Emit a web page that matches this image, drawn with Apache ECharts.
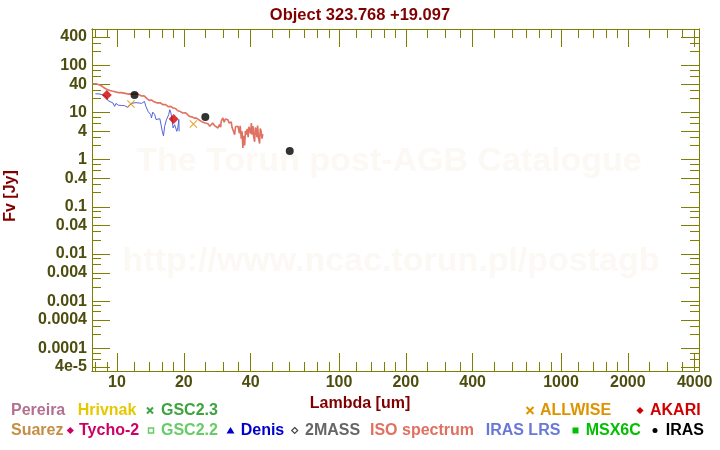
<!DOCTYPE html>
<html>
<head>
<meta charset="utf-8">
<script src="https://cdn.jsdelivr.net/npm/echarts@6/dist/echarts.min.js"></script>
<style>html,body{margin:0;padding:0;background:#fff}#c{width:720px;height:450px}</style>
</head>
<body>
<div id="c"></div>
<script>
// ---- data ----
const isoSpectrum = [
[7.75,40.8],[7.9,40],[8.1,40.5],[8.3,39],[8.4,39.6],[8.5,37],[8.7,34],[8.8,34.8],[8.9,32],[9.1,30.5],[9.2,31.2],[9.3,29.4],[9.5,28.5],[9.7,28],[9.8,28.6],[9.9,27.2],
[10.1,26.5],[10.3,25.8],[10.45,26.4],[10.6,25],[10.9,25.5],[11.2,24.6],[11.5,24.9],[11.8,24.3],[12.05,25],[12.3,24],[12.45,24.6],[12.6,23.2],[12.9,22.5],
[13.1,22],[13.25,22.6],[13.4,21.5],[13.7,19.5],[13.85,20.2],[14.0,18.1],[14.3,18.5],[14.6,17.2],[14.75,17.8],[14.9,16.8],[15.2,16.0],[15.5,15.6],[15.65,16.1],[15.8,15.2],[16.1,14.7],
[16.4,14.3],[16.55,14.8],[16.7,13.6],[17.0,13.3],[17.3,13.0],[17.45,13.5],[17.6,12.7],[17.9,12.5],[18.2,11.8],[18.35,12.2],[18.5,11.2],[18.8,10.9],[19.2,10.6],[19.35,10.9],[19.5,10.0],
[19.8,9.8],[20.2,9.6],[20.4,9.9],[20.6,9.0],[21.2,8.3],[21.5,8.7],[21.8,8.1],[22.3,7.6],[22.5,8.0],[22.8,7.6],[23.2,7.0],[23.6,6.8],[24.0,6.9],[24.4,6.2],[25.0,6.0],[25.3,6.4],[25.7,5.8],[26.2,5.1],
[26.6,5.6],[27.0,6.0],[27.5,5.3],[28.0,5.0],[28.5,4.7],[29.0,5.6],[29.3,4.9],[29.5,6.6],[30.0,7.7],[30.4,6.2],[30.8,7.3],[31.1,7.7],[31.6,7.0],[32.0,6.0],[32.2,5.5],
[32.7,6.3],[33.0,4.8],[33.3,5.1],[33.9,3.4],[34.2,5.0],[34.5,4.6],[35.1,5.1],[35.6,3.6],[35.9,5.2],[36.3,2.8],[36.6,4.0],[36.9,1.77],[37.3,3.2],[37.6,2.0],[37.9,4.1],[38.2,3.4],
[38.6,4.5],[39.0,3.0],[39.3,5.0],[39.6,4.7],[40.0,3.6],[40.3,6.0],[40.6,3.4],[41.0,5.2],[41.3,3.0],[41.7,2.4],[42.0,4.8],[42.4,4.3],[42.7,3.0],
[43.0,5.3],[43.4,2.9],[43.9,2.2],[44.2,4.6],[44.6,4.0],[45.0,2.8],[45.4,3.5]
];
const irasLrs = [
[8.0,25],[8.07,23.9],[8.3,24.8],[8.5,24.2],[8.65,25.2],[8.8,22.8],[9.0,20.5],[9.1,18],[9.25,18.9],[9.4,16.7],[9.6,15.9],[9.76,13.5],[9.9,15.6],[10.0,15.0],[10.15,14.3],[10.3,15.2],[10.5,14.1],
[10.65,14.8],[10.8,14.0],[11.0,13.2],[11.2,12.9],[11.4,14.5],[11.6,14.1],[11.8,15.9],[12.0,15.4],[12.2,16.2],[12.4,14.7],[12.6,15.9],[12.75,14.9],[12.9,15.6],
[13.1,16.5],[13.3,17.2],[13.5,13.5],[13.6,12.5],[13.8,10.6],[14.0,11.5],[14.2,9.0],[14.3,7.66],[14.5,10.2],[14.8,9.0],[15.0,7.1],
[15.3,7.7],[15.6,7.4],[15.8,5.5],[16.0,4.0],[16.2,3.2],[16.4,5.1],[16.7,7.0],[16.9,6.5],[17.1,9.0],[17.3,11.5],[17.5,9.8],[17.7,7.2],
[17.9,4.7],[18.2,5.5],[18.4,6.0],[18.6,4.0],[18.8,4.7],[19.0,7.1],[19.05,4.0]
];
const akari = [[9.0,23.5],[18.0,7.3]];
const iras = [[12,23.5],[25,8.0],[60,1.53]];
const allwise = [[11.56,15.2],[22.09,5.71]];

const xLabelValues = [10,20,40,100,200,400,1000,2000,4000];
const xMinorValues = [8,9,12,14,16,18,25,30,35,50,60,70,80,90,120,140,160,180,250,300,350,500,600,700,800,900,1200,1400,1600,1800,2500,3000,3500];
const yLabelValues = [4e-5,1e-4,4e-4,0.001,0.004,0.01,0.04,0.1,0.4,1,4,10,40,100,400];
const yLabelTexts = ['4e-5','0.0001','0.0004','0.001','0.004','0.01','0.04','0.1','0.4','1','4','10','40','100','400'];
const yMinorValues = [6e-5,8e-5,2e-4,3e-4,6e-4,8e-4,0.002,0.003,0.006,0.008,0.02,0.03,0.06,0.08,0.2,0.3,0.6,0.8,2,3,6,8,20,30,60,80,200,300];

// ---- chart ----
const OLIVE = '#808000';
const LBL = '#4d4d10';
const FONT = '"Liberation Sans", Arial, sans-serif';
const XMIN = 7.72, XMAX = 4183, YMIN = 3.3e-5, YMAX = 591;

function fmtY(v){
  for (let i=0;i<yLabelValues.length;i++){
    if (Math.abs(Math.log10(v)-Math.log10(yLabelValues[i]))<1e-4) return yLabelTexts[i];
  }
  return '';
}
function fmtX(v){
  for (let i=0;i<xLabelValues.length;i++){
    if (Math.abs(Math.log10(v)-Math.log10(xLabelValues[i]))<1e-4) return String(xLabelValues[i]);
  }
  return '';
}
function mkAxis(kind, pos, ticks, len, labels){
  const a = {
    type:'log', logBase:10, position:pos,
    min: kind==='x'?XMIN:YMIN, max: kind==='x'?XMAX:YMAX,
    splitLine:{show:false},
    axisLine:{show:true, onZero:false, lineStyle:{color:OLIVE,width:1}},
    axisTick:{show:true, inside:true, length:len, customValues:ticks, lineStyle:{color:OLIVE,width:1}},
    axisLabel:{show:false},
    minorTick:{show:false}
  };
  if (labels){
    a.axisLabel = {show:true, customValues:labels, color:LBL, fontSize:16, fontWeight:'bold', fontFamily:FONT,
      margin: kind==='x'?4:5, formatter: kind==='x'?fmtX:fmtY, showMinLabel:true, showMaxLabel:true};
  }
  return a;
}

const chart = echarts.init(document.getElementById('c'), null, {renderer:'canvas'});

function txt(x,y,s,color,extra){
  return Object.assign({type:'text', x:x, y:y, z:50, style:{text:s, fill:color, font:'bold 16px '+FONT, textVerticalAlign:'middle', textAlign:'left'}}, extra||{});
}
function diamond(cx,cy,r,color,stroke){
  return {type:'polygon', z:50, shape:{points:[[cx,cy-r],[cx+r,cy],[cx,cy+r],[cx-r,cy]]},
    style: stroke?{fill:'none',stroke:color,lineWidth:1.2}:{fill:color}};
}
function cross(cx,cy,r,color){
  return {type:'group', z:50, children:[
    {type:'line', shape:{x1:cx-r,y1:cy-r,x2:cx+r,y2:cy+r}, style:{stroke:color,lineWidth:2}},
    {type:'line', shape:{x1:cx-r,y1:cy+r,x2:cx+r,y2:cy-r}, style:{stroke:color,lineWidth:2}}
  ]};
}
const R1 = 410.5, R2 = 430.5;
const WM = '#fcf8f3';
const graphics = [
  {type:'text', x:389, y:162, z:0, silent:true, style:{text:'The Torun post-AGB Catalogue', fill:WM, font:'bold 34px '+FONT, textAlign:'center', textVerticalAlign:'middle'}},
  {type:'text', x:391, y:262, z:0, silent:true, style:{text:'http://www.ncac.torun.pl/postagb', fill:WM, font:'bold 34px '+FONT, textAlign:'center', textVerticalAlign:'middle'}},
  {type:'text', x:360, y:404, z:50, style:{text:'Lambda [um]', fill:'#800000', font:'bold 16px '+FONT, textAlign:'center', textVerticalAlign:'middle'}},
  {type:'text', x:11, y:196, z:50, rotation:Math.PI/2, style:{text:'Fv [Jy]', fill:'#800000', font:'bold 16px '+FONT, textAlign:'center', textVerticalAlign:'middle'}},
  txt(11,R1,'Pereira','#b3708f'),
  txt(77.7,R1,'Hrivnak','#e6c800'),
  cross(150,R1,3,'#3fa33f'), txt(161,R1,'GSC2.3','#3fa33f'),
  cross(530,R1,3.5,'#dd9400'), txt(540,R1,'ALLWISE','#dd9400'),
  diamond(640,R1,3.6,'#d00000'), txt(650,R1,'AKARI','#d00000'),
  txt(11,R2,'Suarez','#c58e45'),
  diamond(70.3,R2,3.6,'#cc0066'), txt(79,R2,'Tycho-2','#cc0066'),
  {type:'rect', z:50, shape:{x:148.5,y:R2-2.5,width:5,height:5}, style:{fill:'none',stroke:'#66cc66',lineWidth:1.5}}, txt(161,R2,'GSC2.2','#66cc66'),
  {type:'polygon', z:50, shape:{points:[[230.5,R2-3.5],[234.5,R2+3],[226.5,R2+3]]}, style:{fill:'#0000cc'}}, txt(240.7,R2,'Denis','#0000cc'),
  diamond(294.7,R2,3,'#444444',true), txt(305,R2,'2MASS','#666666'),
  txt(370,R2,'ISO spectrum','#e07060'),
  txt(485.7,R2,'IRAS LRS','#6878d8'),
  {type:'rect', z:50, shape:{x:572.5,y:R2-3,width:6,height:6}, style:{fill:'#00c000'}}, txt(585.7,R2,'MSX6C','#00c000'),
  {type:'circle', z:50, shape:{cx:655,cy:R2,r:2.5}, style:{fill:'#000'}}, txt(665.7,R2,'IRAS','#000000')
];

const crossPath = 'path://M0,1 L1,0 L5,4 L9,0 L10,1 L6,5 L10,9 L9,10 L5,6 L1,10 L0,9 L4,5 Z';

chart.setOption({
  animation:false,
  backgroundColor:'#ffffff',
  title:{text:'Object 323.768 +19.097', left:'center', top:2,
    textStyle:{color:'#800000', fontSize:16.5, fontWeight:'bold', fontFamily:FONT}},
  grid:{left:92, top:29, right:21, bottom:79, containLabel:false},
  xAxis:[
    mkAxis('x','bottom',xLabelValues,18,xLabelValues),
    mkAxis('x','bottom',xMinorValues,9,null),
    mkAxis('x','top',xLabelValues,18,null),
    mkAxis('x','top',xMinorValues,9,null)
  ],
  yAxis:[
    mkAxis('y','left',yLabelValues,18,yLabelValues),
    mkAxis('y','left',yMinorValues,9,null),
    mkAxis('y','right',yLabelValues,18,null),
    mkAxis('y','right',yMinorValues,9,null)
  ],
  graphic: graphics,
  series:[
    {name:'ISO spectrum', type:'line', data:isoSpectrum, showSymbol:false, symbol:'none', lineStyle:{color:'#e07060',width:1.6}, z:3},
    {name:'IRAS LRS', type:'line', data:irasLrs, showSymbol:false, symbol:'none', lineStyle:{color:'#5563d6',width:1}, z:4},
    {name:'ALLWISE', type:'scatter', data:allwise, symbol:crossPath, symbolSize:8, itemStyle:{color:'#dd9400'}, z:6},
    {name:'AKARI', type:'scatter', data:akari, symbol:'diamond', symbolSize:[10,10], itemStyle:{color:'#d00000'}, z:6},
    {name:'IRAS', type:'scatter', data:iras, symbol:'circle', symbolSize:8, itemStyle:{color:'#000000'}, z:6}
  ]
});
</script>
</body>
</html>
